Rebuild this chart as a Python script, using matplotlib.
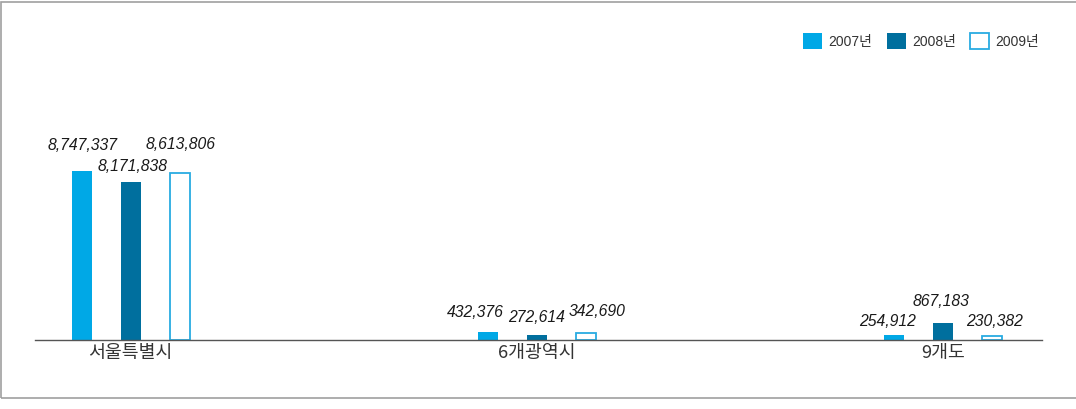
import matplotlib.pyplot as plt
from matplotlib.patches import Rectangle, Patch
import numpy as np

# data
regions = ['서울특별시', '6개광역시', '9개도']
years = ['2007년', '2008년', '2009년']
v2007 = [8747337, 432376, 254912]
v2008 = [8171838, 272614, 867183]
v2009 = [8613806, 342690, 230382]

# label nudges in pixels (dx, dy above bar top), per year per region
nudge = [
    [(1, 25), (-12, 19), (-6, 14)],
    [(2, 15), (0, 17), (-2, 22)],
    [(1, 29), (11, 22), (3, 14)],
]

c07 = '#00a8e6'
c08 = '#006f9e'
c09 = '#29abe2'

fig = plt.figure(figsize=(10.76, 4.09), dpi=100)
ax = fig.add_axes([35/1076, 69/409, 1007/1076, 300/409])

x = np.arange(len(regions))
off = 49/406
w = 20/406

series = [v2007, v2008, v2009]
b1 = ax.bar(x - off, v2007, w, color=c07, edgecolor='none')
b2 = ax.bar(x, v2008, w, color=c08, edgecolor='none')
b3 = ax.bar(x + off, v2009, w, facecolor='white', edgecolor=c09, linewidth=1.3)

for i, bars in enumerate([b1, b2, b3]):
    for j, b in enumerate(bars):
        dx, dy = nudge[i][j]
        ax.annotate(f'{series[i][j]:,}', (b.get_x() + b.get_width()/2, b.get_height()),
                    xytext=(dx, dy), textcoords='offset pixels',
                    ha='center', va='center', fontsize=11.3, style='italic',
                    family=['Liberation Sans', 'DejaVu Sans'], color='#1a1a1a')

ax.set_xlim(-0.2357, 2.2438)
ax.set_ylim(0, 300/19.35*1e6)
ax.set_xticks(x)
ax.set_xticklabels(regions, family=['Noto Sans CJK KR'], fontsize=13.2, color='#333333')
ax.tick_params(axis='x', length=0, pad=3)
ax.set_yticks([])
for s in ['top', 'right', 'left']:
    ax.spines[s].set_visible(False)
ax.spines['bottom'].set_color('#555555')
ax.spines['bottom'].set_linewidth(1)

handles = [Patch(facecolor=c07, edgecolor='none'),
           Patch(facecolor=c08, edgecolor='none'),
           Patch(facecolor='white', edgecolor=c09, linewidth=1.3)]
fig.legend(handles, years, loc='center right', ncol=3, frameon=False,
           bbox_to_anchor=(1039/1076, 1 - 41/409), bbox_transform=fig.transFigure,
           borderpad=0, borderaxespad=0, handlelength=1.37, handleheight=1.37,
           handletextpad=0.43, columnspacing=1.05,
           prop={'family': ['Liberation Sans', 'Noto Sans CJK KR'], 'size': 10},
           labelcolor='#333333')

# outer frame
fig.patches.append(Rectangle((0.5/1076, 11/409), 1.1, 396/409, transform=fig.transFigure,
                             fill=False, edgecolor='#a0a0a0', linewidth=1.2))

fig.savefig('out.png', dpi=100)
